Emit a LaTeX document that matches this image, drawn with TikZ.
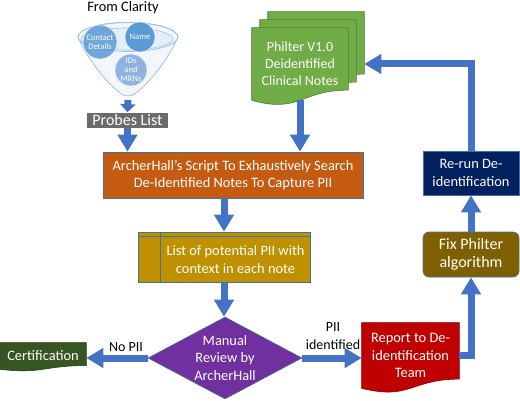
\documentclass[tikz,border=0pt]{standalone}
\usepackage{fontspec}
\setmainfont{Carlito}
\usetikzlibrary{calc,
	positioning,
	shapes.geometric,
	arrows.meta,
	backgrounds}

\definecolor{flowblue}{HTML}{4472C4}
\definecolor{edgeblue}{HTML}{41719C}
\definecolor{scriptorange}{HTML}{C55A11}
\definecolor{philtergreen}{HTML}{70AD47}
\definecolor{listgold}{HTML}{BF9000}
\definecolor{reviewpurple}{HTML}{7030A0}
\definecolor{certgreen}{HTML}{375623}
\definecolor{reportred}{HTML}{C00000}
\definecolor{fixbrown}{HTML}{7F6000}
\definecolor{rerunnavy}{HTML}{002060}
\definecolor{probesgray}{HTML}{6B6B6B}
\definecolor{funnelfill}{HTML}{F3F7FC}
\definecolor{funneledge}{HTML}{9DC3E6}
\definecolor{funnelinner}{HTML}{E4EEF9}
\definecolor{circleblue}{HTML}{5B9BD5}
\definecolor{circlelight}{HTML}{8FB4E3}

\newcommand{\docshape}[2]{%
	\filldraw[fill=#2, draw=#2!70!black, line width=0.6pt]
	let \p1=(#1.north west), \p2=(#1.south east), \n1={\y1-\y2}, \n2={(\x1+\x2)/2} in
	(\x1,\y1) -- (\x2,\y1) -- (\x2,{\y2+0.14*\n1})
	.. controls (\n2,{\y2+0.14*\n1}) and (\n2,{\y2-0.185*\n1}) .. (\x1,\y2) -- cycle;}

\tikzset{
	box/.style={draw=edgeblue, line width=0.6pt, text=white, align=center, inner sep=0pt, font=\fontsize{14.4}{17.5}\selectfont},
	doc/.style={box, draw=none},
	lbl/.style={align=center, inner sep=0pt, font=\fontsize{14}{18}\selectfont},
	blob/.style={circle, draw=white, line width=0.4pt, text=white, align=center, inner sep=-2pt, minimum size=#1, font=\fontsize{8.5}{9}\selectfont},
	flow/.style={draw=flowblue, line width=7pt, -{Triangle[width=19pt,length=17pt]}}
}

\begin{document}
\begin{tikzpicture}[x=1pt, y=1pt]
\useasboundingbox (0,0) rectangle (520,400);

\filldraw[fill=funnelfill, draw=funneledge, line width=0.8pt] (78,363) .. controls (88,340) and (106,318) .. (120,307) .. controls (125,303) and (131,303) .. (136,307) .. controls (150,318) and (168,340) .. (178,363) arc[start angle=0, end angle=180, x radius=50, y radius=14.5] -- cycle;
\draw[funneledge, line width=0.8pt] (128,363) ellipse [x radius=50, y radius=14.5];
\draw[funneledge, line width=0.6pt, fill=funnelinner] (127,361) ellipse [x radius=46, y radius=11];
\node (contact) [blob=34pt, fill=circleblue, fill opacity=0.85, text opacity=1] at (100,358) {Contact\\Details};
\node (name) [blob=30pt, fill=circleblue] at (140,363) {Name};
\node (ids) [blob=32pt, fill=circlelight] at (131,330) {IDs\\and\\MRNs};
\node (clarity) [lbl, font=\fontsize{14.4}{17}\selectfont] at (123,392) {From Clarity};
\coordinate (funneltip) at (128,300);

\node (probes) [box, draw=none, fill=probesgray, minimum width=81pt, minimum height=15pt, font=\fontsize{16}{18}\selectfont] at (127.5,280) {Probes List};
\node (script) [box, fill=scriptorange, minimum width=260pt, minimum height=46pt] at (233,225) {ArcherHall’s Script To Exhaustively Search\\De-Identified Notes To Capture PII};

\node (philter) [doc, minimum width=96pt, minimum height=72pt, font=\fontsize{14}{17}\selectfont] at (300,336) {Philter V1.0\\Deidentified\\Clinical Notes};
\node (philtermid) [doc, minimum width=96pt, minimum height=72pt] at (308,344) {};
\node (philterback) [doc, minimum width=96pt, minimum height=72pt] at (316,352) {};

\node (list) [box, fill=listgold, minimum width=172pt, minimum height=50pt] at (224,143) {};
\draw[edgeblue, line width=0.6pt] ([xshift=23pt]list.north west) -- ([xshift=23pt]list.south west);
\draw[edgeblue, line width=0.6pt] ([yshift=-5pt]list.north west) -- ([yshift=-5pt]list.north east);
\node (listtext) [box, draw=none] at ([xshift=11.5pt,yshift=-2.5pt]list.center) {List of potential PII with\\context in each note};

\node (review) [box, diamond, fill=reviewpurple, aspect=1.88, inner sep=-2pt, minimum width=154pt, minimum height=82pt] at (225,42) {Manual\\Review by\\ArcherHall};
\node (cert) [doc, minimum width=86pt, minimum height=26pt] at (43,44) {Certification};
\node (report) [doc, minimum width=97pt, minimum height=65pt] at (410.5,44.5) {Report to De-\\identification\\Team};
\node (fix) [box, rounded corners=6pt, fill=fixbrown, minimum width=96pt, minimum height=45pt, font=\fontsize{16}{18}\selectfont] at (471,145.5) {Fix Philter\\algorithm};
\node (rerun) [box, fill=rerunnavy, minimum width=96pt, minimum height=44pt] at (471,227) {Re-run De-\\identification};

\node (nopii) [lbl] at (126,53) {No PII};
\node (piiid) [lbl] at (333,64) {PII\\identified};

\begin{scope}[on background layer]
\docshape{philterback}{philtergreen}
\docshape{philtermid}{philtergreen}
\docshape{philter}{philtergreen}
\docshape{cert}{certgreen}
\docshape{report}{reportred}
\end{scope}

\draw[flow, -{Triangle[width=15pt,length=8pt]}] (funneltip) -- (probes.north);
\draw[flow] (probes.south) -- (probes.south |- script.north);
\draw[flow] (philter.south) -- (philter.south |- script.north);
\draw[flow] (list.north |- script.south) -- (list.north);
\draw[flow] (list.south) -- (list.south |- review.north);
\draw[flow] (review.west) -- (review.west -| cert.east);
\draw[flow] (review.east) -- (review.east -| report.west);
\draw[flow] (report.east) -| (fix.south);
\draw[flow] (fix.north) -- (rerun.south);
\draw[flow] (rerun.north) |- (philterback.east |- philter.east);
\end{tikzpicture}
\end{document}
